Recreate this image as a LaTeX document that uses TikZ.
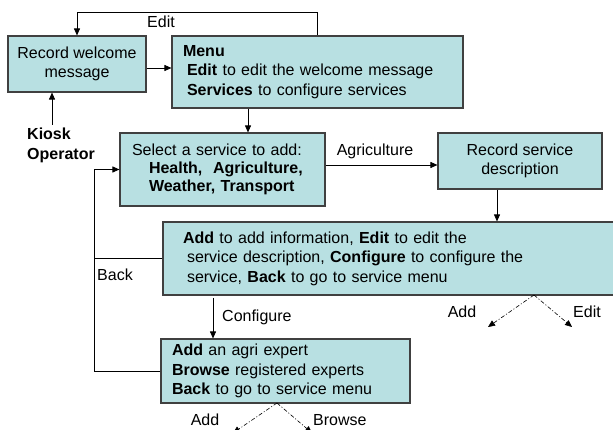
\documentclass[tikz,border=0pt]{standalone}
\usepackage{fontspec}
\setmainfont{Liberation Sans}
\usetikzlibrary{arrows.meta}
\definecolor{boxfill}{HTML}{B8E0E2}
\definecolor{boxline}{HTML}{404040}
\begin{document}
\begin{tikzpicture}[x=1pt,y=-1pt,
  every node/.style={font=\fontsize{16}{19.5}\selectfont},
  box/.style={draw=boxline,line width=1.1pt,fill=boxfill,rectangle,inner ysep=0pt},
  arr/.style={-{Triangle[length=7pt,width=6pt]},line width=0.8pt},
  plain/.style={line width=0.8pt},
  dd/.style={-{Triangle[length=7pt,width=6pt]},line width=0.6pt,dash pattern=on 4pt off 2pt on 1pt off 2pt},
  lbl/.style={inner sep=0pt}]
\useasboundingbox (0,0) rectangle (613,430);
% boxes
\node[box,minimum width=138pt,minimum height=56pt,align=center] (box1) at (77,64) {Record welcome\\message};
\node[box,minimum height=72pt,inner xsep=11pt,text width=269pt,align=left] (menu) at (317.5,72)
  {\textbf{Menu}\\\hspace*{4pt}\textbf{Edit} to edit the welcome message\\\hspace*{4pt}\textbf{Services} to configure services};
\node[box,minimum height=73pt,inner xsep=12pt,text width=181pt,align=left,font=\fontsize{16}{18}\selectfont] (select) at (222.5,169.5)
  {Select a service to add:\\\hspace*{17pt}\textbf{Health,\ \ Agriculture,}\\\hspace*{17pt}\textbf{Weather, Transport}};
\node[box,minimum width=164pt,minimum height=56pt,align=center] (record) at (520,161) {Record service\\description};
\node[box,minimum height=73pt,inner xsep=20pt,text width=437pt,align=left] (big) at (401.5,258.5)
  {\textbf{Add} to add information, \textbf{Edit} to edit the\\\hspace*{4pt}service description, \textbf{Configure} to configure the\\\hspace*{4pt}service, \textbf{Back} to go to service menu};
\node[box,minimum height=64pt,inner xsep=11pt,text width=227pt,align=left] (config) at (285.5,371)
  {\textbf{Add} an agri expert\\\textbf{Browse} registered experts\\\textbf{Back} to go to service menu};
\node[lbl,anchor=west,align=left,font=\fontsize{16}{20}\selectfont\bfseries] (kiosk) at (27,145) {Kiosk\\Operator};
% coordinates
\coordinate (etop) at (0,12);
\coordinate (kt) at (52,125);
\coordinate (bk) at (94,169.5);
\coordinate (s1) at (534,295);
\coordinate (s1a) at (488,327);
\coordinate (s1b) at (572,327);
\coordinate (s2) at (277,403);
\coordinate (s2a) at (233,433);
\coordinate (s2b) at (312,433);
% connectors
\draw[arr] (menu.north) -- (menu.north |- etop) -| (box1.north);
\node[lbl] (ledit) at (161,22) {Edit};
\draw[arr] (box1.east |- 0,68) -- (menu.west |- 0,68);
\draw[arr] (kt) -- (kt |- box1.south);
\draw[arr] (menu.south -| 248,0) -- (select.north -| 248,0);
\draw[arr] (select.east |- 0,165) -- (record.west |- 0,165);
\node[lbl] (lagri) at (375,151) {Agriculture};
\draw[arr] (record.south -| 497,0) -- (big.north -| 497,0);
\draw[arr] (213,298) -- (config.north -| 213,0);
\node[lbl,anchor=west] (lconf) at (222,317) {Configure};
\draw[arr] (config.west) -| (bk) -- (select.west);
\draw[plain] (big.west) -- (big.west -| bk);
\node[lbl,anchor=west] (lback) at (97,275) {Back};
\draw[dd] (s1) -- (s1a);
\draw[dd] (s1) -- (s1b);
\node[lbl] (ladd1) at (462,312) {Add};
\node[lbl] (ledit2) at (587,312) {Edit};
\draw[dd] (s2) -- (s2a);
\draw[dd] (s2) -- (s2b);
\node[lbl] (ladd2) at (205,420) {Add};
\node[lbl,anchor=west] (lbrowse) at (313,420) {Browse};
\end{tikzpicture}
\end{document}
